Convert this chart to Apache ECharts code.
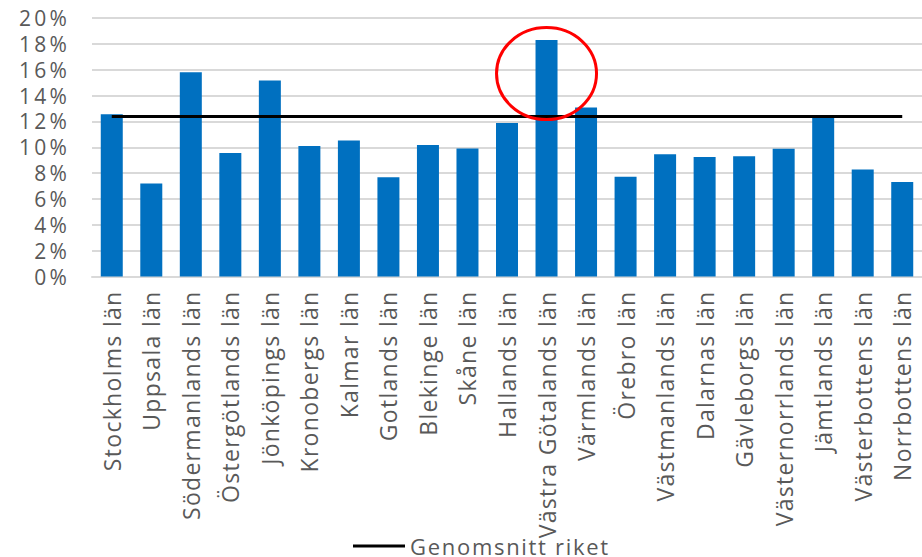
<!DOCTYPE html>
<html>
<head>
<meta charset="utf-8">
<script src="https://cdn.jsdelivr.net/npm/echarts@6/dist/echarts.min.js"></script>
<style>
html,body{margin:0;padding:0;background:#fff}
#c{width:922px;height:557px}
#c text[style*="23px"]{letter-spacing:1.3px}
#c text[style*="21px"]{letter-spacing:3.2px}
#c text[style*="22px"]{letter-spacing:1.7px}
</style>
</head>
<body>
<div id="c"></div>
<script>
const categories = ["Stockholms län","Uppsala län","Södermanlands län","Östergötlands län","Jönköpings län","Kronobergs län","Kalmar län","Gotlands län","Blekinge län","Skåne län","Hallands län","Västra Götalands län","Värmlands län","Örebro län","Västmanlands län","Dalarnas län","Gävleborgs län","Västernorrlands län","Jämtlands län","Västerbottens län","Norrbottens län"];
const values = [12.55, 7.2, 15.8, 9.55, 15.17, 10.1, 10.53, 7.67, 10.17, 9.9, 11.87, 18.3, 13.08, 7.72, 9.45, 9.25, 9.3, 9.88, 12.45, 8.28, 7.32];
const averageValue = 12.37;
const averageSeries = categories.map(() => averageValue);
const averageName = "Genomsnitt riket";
const yTicks = [0, 2, 4, 6, 8, 10, 12, 14, 16, 18, 20];
const highlightIndex = 11;
const highlightCenterValue = 15.7;

const font = "'Open Sans', sans-serif";
const chart = echarts.init(document.getElementById('c'), null, {renderer: 'svg'});
chart.setOption({
  animation: false,
  backgroundColor: '#ffffff',
  grid: {left: 92, width: 835, top: 18, height: 258.5, containLabel: false},
  legend: {
    data: [{name: averageName, icon: 'path://M0,0 L52,0 L52,3 L0,3 Z'}],
    left: 348, top: 530,
    itemWidth: 52, itemHeight: 3, itemGap: 5,
    textStyle: {fontFamily: font, fontSize: 22, color: '#595959'}
  },
  xAxis: {
    type: 'category', data: categories,
    axisLine: {lineStyle: {color: '#d9d9d9', width: 2}},
    axisTick: {show: false},
    axisLabel: {rotate: 90, margin: 14, fontFamily: font, fontSize: 23, color: '#595959', interval: 0}
  },
  yAxis: {
    type: 'value', min: yTicks[0], max: yTicks[yTicks.length-1], interval: 2,
    axisLine: {show: false}, axisTick: {show: false},
    splitLine: {lineStyle: {color: '#d9d9d9', width: 2}},
    axisLabel: {formatter: v => v + '%', fontFamily: font, fontSize: 21, color: '#595959', margin: 22}
  },
  series: [
    {type: 'bar', data: values, barWidth: 22, itemStyle: {color: '#0070c0'}, silent: true},
    {type: 'line', name: averageName, data: averageSeries, symbol: 'none',
     lineStyle: {color: '#000000', width: 3}, itemStyle: {color: '#000000'}, z: 5}
  ]
});
const c = chart.convertToPixel({gridIndex: 0}, [highlightIndex, highlightCenterValue]);
chart.setOption({
  graphic: [{type: 'ellipse', shape: {cx: c[0], cy: c[1], rx: 50, ry: 46},
    style: {fill: 'none', stroke: '#ff0000', lineWidth: 3}, z: 10}]
});
</script>
</body>
</html>
